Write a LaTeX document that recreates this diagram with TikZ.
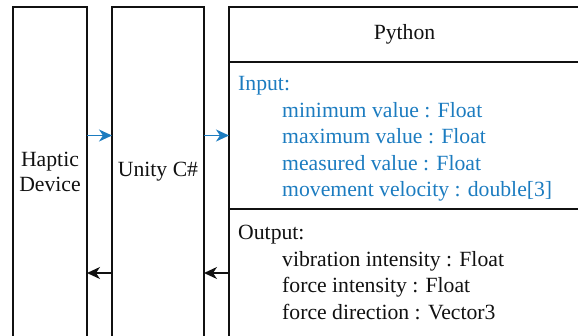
\documentclass[tikz,border=0pt]{standalone}
\usepackage{fontspec}
\setmainfont{Liberation Serif}
\usetikzlibrary{arrows.meta,positioning}
\definecolor{Ink}{HTML}{111111}
\definecolor{InBlue}{HTML}{1C7CC0}
\tikzset{
  lane/.style={draw=Ink,line width=1.4pt,minimum height=330pt,outer sep=0pt,inner sep=0pt,align=center,text=Ink,font=\fontsize{21.7}{25}\selectfont},
  part/.style={draw=Ink,line width=1.4pt,minimum width=351pt,outer sep=0pt,inner sep=0pt,text=Ink,font=\fontsize{21.7}{25}\selectfont},
  fields/.style={inner sep=0pt,align=left,anchor=north west,font=\fontsize{21.7}{26.6}\selectfont},
  callArrow/.style={draw=InBlue,line width=1.6pt,-{Stealth[length=13pt,width=12pt,inset=4pt]}},
  backArrow/.style={draw=Ink,line width=1.6pt,-{Stealth[length=13pt,width=12pt,inset=4pt]}}
}
\begin{document}
\begin{tikzpicture}[x=1pt,y=1pt,node distance=25pt]
\useasboundingbox (0,-335) rectangle (578,0);
\node[lane,minimum width=74pt] (haptic) at (50,-172) {Haptic\\Device};
\node[lane,minimum width=92pt,right=of haptic] (unity) {Unity C\#};
\node[part,minimum height=55pt,right=of unity.north east,anchor=north west] (head) {Python};
\node[part,minimum height=147pt,below=0pt of head] (inbox) {};
\node[part,minimum height=128pt,below=0pt of inbox] (outbox) {};
\node[fields,text=InBlue] (inlist) at ([xshift=9pt,yshift=-14pt]inbox.north west)
  {Input:\\\hspace*{44pt}minimum value : Float\\\hspace*{44pt}maximum value : Float\\\hspace*{44pt}measured value : Float\\\hspace*{44pt}movement velocity : double[3]};
\node[fields,text=Ink] (outlist) at ([xshift=9pt,yshift=-16pt]outbox.north west)
  {Output:\\\hspace*{44pt}vibration intensity : Float\\\hspace*{44pt}force intensity : Float\\\hspace*{44pt}force direction : Vector3};
% requests go right, results come back left
\draw[callArrow] (haptic.east |- inbox.west) -- (unity.west |- inbox.west);
\draw[callArrow] (unity.east |- inbox.west) -- (inbox.west);
\draw[backArrow] (outbox.west) -- (unity.east |- outbox.west);
\draw[backArrow] (unity.west |- outbox.west) -- (haptic.east |- outbox.west);
\end{tikzpicture}
\end{document}
